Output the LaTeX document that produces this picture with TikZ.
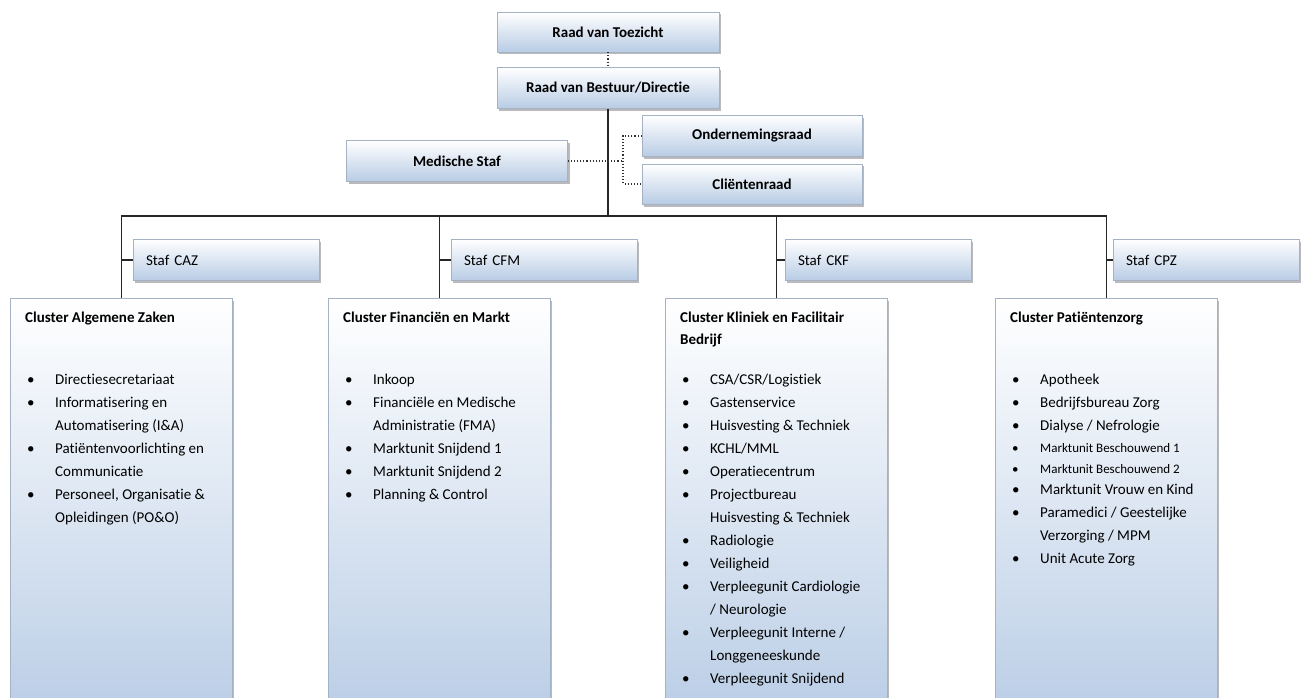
\documentclass[tikz,border=0pt]{standalone}
\usepackage{fontspec}
\setmainfont{Carlito}[Ligatures=NoCommon]
\usetikzlibrary{shadows}

\definecolor{boxblue}{RGB}{184,204,229}
\definecolor{boxedge}{RGB}{165,178,196}
\definecolor{schaduw}{RGB}{140,140,145}

\newcommand\bulp{\makebox[28pt][l]{\textbullet}}
\newcommand\verv{\hspace*{28pt}}

\tikzset{
  orgbox/.style={draw=boxedge, line width=0.6pt, top color=white, bottom color=boxblue,
    drop shadow={shadow xshift=2pt, shadow yshift=-2.5pt, fill=schaduw, opacity=0.6},
    minimum height=41pt, inner sep=0pt, font=\bfseries\fontsize{15}{18}\selectfont},
  stafbox/.style={orgbox, minimum width=186pt, text width=160pt, align=left,
    font=\fontsize{15}{18}\selectfont},
  clusterbox/.style={orgbox, anchor=north west, minimum width=222pt, minimum height=430pt},
  lijn/.style={line width=1.1pt, black!85},
  advies/.style={line width=1.1pt, dotted, black!80},
  kop/.style={anchor=base west, inner sep=0pt, font=\bfseries\fontsize{15}{18}\selectfont},
  punt/.style={anchor=base west, inner sep=0pt, font=\fontsize{15}{18}\selectfont},
  kleinpunt/.style={punt, font=\fontsize{13}{16}\selectfont},
}

\begin{document}
\begin{tikzpicture}[x=1pt,y=-1pt]
  \useasboundingbox (0,0) rectangle (1304,698);

  % top
  \node[orgbox, minimum width=222pt, minimum height=40pt] (rvt) at (608,32) {Raad van Toezicht};
  \node[orgbox, minimum width=222pt] (rvb) at (608,88) {Raad van Bestuur/Directie};
  \node[orgbox, minimum width=221pt] (med) at (457,161) {Medische Staf};
  \node[orgbox, minimum width=220pt] (ondr) at (752,136) {Ondernemingsraad};
  \node[orgbox, minimum width=220pt, minimum height=40pt] (clr) at (752,184) {Cliëntenraad};

  % staf
  \node[stafbox] (scaz) at (226,260) {Staf CAZ};
  \node[stafbox] (scfm) at (544,260) {Staf CFM};
  \node[stafbox] (sckf) at (878,260) {Staf CKF};
  \node[stafbox] (scpz) at (1206,260) {Staf CPZ};

  % clusters
  \node[clusterbox] (caz) at (10,298) {};
  \node[clusterbox] (cfm) at (328,298) {};
  \node[clusterbox] (ckf) at (665,298) {};
  \node[clusterbox] (cpz) at (995,298) {};

  % lines
  \coordinate (bus) at (608,216);
  \coordinate (ad) at (623,159);
  \draw[advies] (rvt) -- (rvb);
  \draw[lijn] (rvb) -- (bus);
  \draw[lijn] (caz.north) |- (bus);
  \draw[lijn] (cfm.north) |- (bus);
  \draw[lijn] (ckf.north) |- (bus);
  \draw[lijn] (cpz.north) |- (bus);
  \draw[lijn] (scaz.west) -- (scaz.west -| caz.north);
  \draw[lijn] (scfm.west) -- (scfm.west -| cfm.north);
  \draw[lijn] (sckf.west) -- (sckf.west -| ckf.north);
  \draw[lijn] (scpz.west) -- (scpz.west -| cpz.north);
  \draw[advies] (med.east) -- (med.east -| ad);
  \draw[advies] (ondr.west) -- (ondr.west -| ad) -- (clr.west -| ad) -- (clr.west);

  % cluster text
  \node[kop] (tcaz) at (25,322) {Cluster Algemene Zaken};
  \foreach \y/\txt [count=\i] in {384/{\bulp Directiesecretariaat}, 407/{\bulp Informatisering en},
      430/{\verv Automatisering (I\&A)}, 453/{\bulp Patiëntenvoorlichting en},
      476/{\verv Communicatie}, 499/{\bulp Personeel, Organisatie \&},
      522/{\verv Opleidingen (PO\&O)}}
    \node[punt] (caz-\i) at (27,\y) {\txt};

  \node[kop] (tcfm) at (343,322) {Cluster Financiën en Markt};
  \foreach \y/\txt [count=\i] in {384/{\bulp Inkoop}, 407/{\bulp Financiële en Medische},
      430/{\verv Administratie (FMA)}, 453/{\bulp Marktunit Snijdend 1},
      476/{\bulp Marktunit Snijdend 2}, 499/{\bulp Planning \& Control}}
    \node[punt] (cfm-\i) at (345,\y) {\txt};

  \node[kop] (tckf) at (680,322) {Cluster Kliniek en Facilitair};
  \node[kop] (tckf2) at (680,344) {Bedrijf};
  \foreach \y/\txt [count=\i] in {384/{\bulp CSA/CSR/Logistiek}, 407/{\bulp Gastenservice},
      430/{\bulp Huisvesting \& Techniek}, 453/{\bulp KCHL/MML},
      476/{\bulp Operatiecentrum}, 499/{\bulp Projectbureau},
      522/{\verv Huisvesting \& Techniek}, 545/{\bulp Radiologie},
      568/{\bulp Veiligheid}, 591/{\bulp Verpleegunit Cardiologie},
      614/{\verv / Neurologie}, 637/{\bulp Verpleegunit Interne /},
      660/{\verv Longgeneeskunde}, 683/{\bulp Verpleegunit Snijdend}}
    \node[punt] (ckf-\i) at (682,\y) {\txt};

  \node[kop] (tcpz) at (1010,322) {Cluster Patiëntenzorg};
  \foreach \y/\txt [count=\i] in {384/{\bulp Apotheek}, 407/{\bulp Bedrijfsbureau Zorg},
      430/{\bulp Dialyse / Nefrologie}, 494/{\bulp Marktunit Vrouw en Kind},
      517/{\bulp Paramedici / Geestelijke}, 540/{\verv Verzorging / MPM},
      563/{\bulp Unit Acute Zorg}}
    \node[punt] (cpz-\i) at (1012,\y) {\txt};
  \node[kleinpunt] (cpz-b1) at (1012,452) {\bulp Marktunit Beschouwend 1};
  \node[kleinpunt] (cpz-b2) at (1012,473) {\bulp Marktunit Beschouwend 2};
\end{tikzpicture}
\end{document}
